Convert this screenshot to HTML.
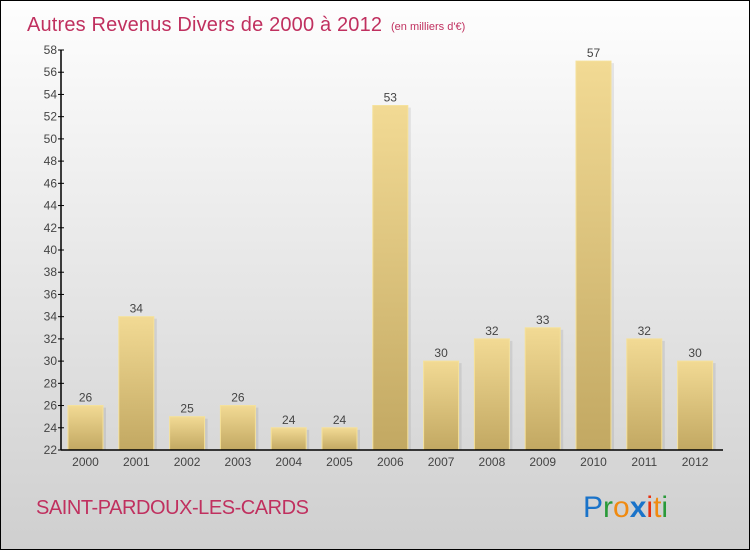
<!DOCTYPE html>
<html><head><meta charset="utf-8"><style>
body{margin:0}
#c{width:748px;height:548px;border:1px solid #000;background:linear-gradient(#fefefe,#cfcfcf);position:relative;font-family:"Liberation Sans",sans-serif;overflow:hidden}
</style></head><body>
<div id="c">
<svg width="748" height="548" style="position:absolute;left:0;top:0" id="svg">
<defs>
<linearGradient id="bg" x1="0" y1="0" x2="0" y2="1"><stop offset="0" stop-color="#f2da94"/><stop offset="1" stop-color="#c2a862"/></linearGradient>
</defs>
<text x="26" y="30" font-size="20" fill="#c0305f" textLength="355">Autres Revenus Divers de 2000 à 2012</text>
<text x="390" y="29" font-size="11" fill="#c0305f">(en milliers d'€)</text>
<text x="35" y="513" font-size="20" fill="#c0305f" textLength="273">SAINT-PARDOUX-LES-CARDS</text>
<g font-size="30" font-family="'Liberation Sans',sans-serif">
<text x="582" y="516"><tspan fill="#1a73c9">P</tspan><tspan fill="#2a9a3a">r</tspan><tspan fill="#f08a10">o</tspan><tspan fill="#1a73c9" font-weight="bold">x</tspan><tspan fill="#e83010">i</tspan><tspan fill="#f08a10">t</tspan><tspan fill="#2a9a3a">i</tspan></text>
</g>
<g id="plot"></g>
</svg>
</div>
<script>
const categories=["2000","2001","2002","2003","2004","2005","2006","2007","2008","2009","2010","2011","2012"];
const values=[26,34,25,26,24,24,53,30,32,33,57,32,30];
const yTicks=[22,24,26,28,30,32,34,36,38,40,42,44,46,48,50,52,54,56,58];
const yMin=22,yMax=58,top_=49,bot=449,axisX=60;
const y=v=>bot-(v-yMin)/(yMax-yMin)*(bot-top_);
const x=i=>84.5+i*50.8;
const ns="http://www.w3.org/2000/svg";
const g=document.getElementById('plot');
function mk(t,a){const e=document.createElementNS(ns,t);for(const k in a)e.setAttribute(k,a[k]);g.appendChild(e);return e;}
values.forEach((v,i)=>{
 const bw=35;
 const sh=mk('rect',{x:x(i)-bw/2+3,y:y(v)+2,width:bw,height:bot-y(v)-2,fill:'rgba(0,0,0,0.08)'});
 
 
 const r=mk('rect',{x:x(i)-bw/2,y:y(v),width:bw,height:bot-y(v),fill:'url(#bg)',stroke:'#f5e19a','stroke-width':1});
 
 
 const t=mk('text',{x:x(i),y:y(v)-4,'text-anchor':'middle','font-size':12,fill:'#444'});
 t.textContent=v;
 
 
 const c=mk('text',{x:x(i),y:bot+16,'text-anchor':'middle','font-size':12,fill:'#444'});
 c.textContent=categories[i];
 
 
});
yTicks.forEach(v=>{
 const l=mk('line',{x1:axisX-3,x2:axisX+3,y1:y(v),y2:y(v),stroke:'#000'});
 
 
 const t=mk('text',{x:axisX-4,y:y(v)+4,'text-anchor':'end','font-size':12,fill:'#444'});
 t.textContent=v;
 
 
});
const ya=mk('line',{x1:axisX,x2:axisX,y1:top_,y2:bot,stroke:'#000','stroke-width':1.5});


const xa=mk('line',{x1:axisX,x2:722,y1:bot,y2:bot,stroke:'#000','stroke-width':1.5});


</script>
</body></html>
